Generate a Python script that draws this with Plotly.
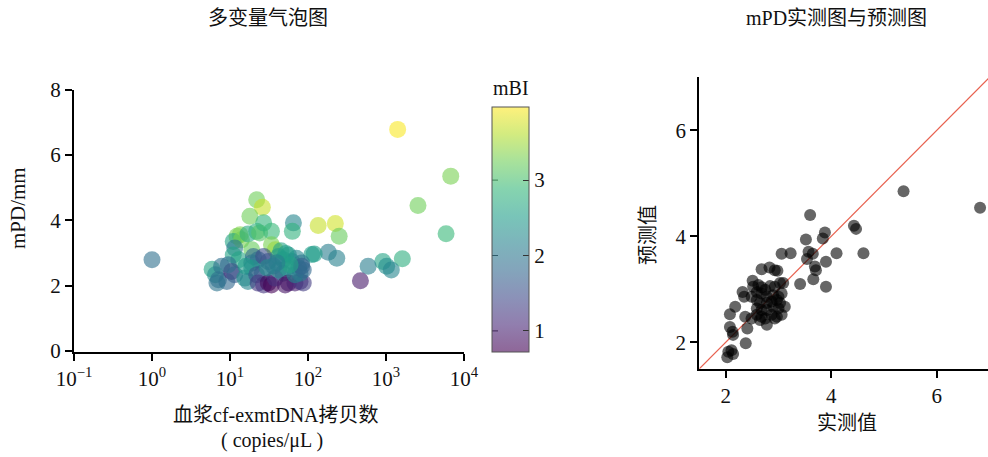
import plotly.graph_objects as go

# ---------------- data: left bubble chart ----------------
copies = [1.0, 1410, 6760, 2570, 5890, 1620, 910, 1020, 1170, 590, 470,
          135, 224, 251, 182, 234, 112, 120, 65, 63,
          22, 26, 18, 13.5, 12.3, 11, 14, 17, 22, 24, 27, 34, 34, 38, 19,
          11.5, 11, 13, 20, 23, 19, 27, 31, 42, 48, 56, 62, 71, 83, 76,
          5.9, 6.5, 7.8, 7.1, 9.1, 6.8, 10.5, 11.5, 9.5, 16, 19, 15.5, 17,
          22, 26, 23, 27, 31, 34, 38, 42, 48, 54, 51, 56, 68, 79, 87, 68,
          79, 83, 87, 59, 45, 52, 30, 36, 40]
mpd = [2.79, 6.78, 5.35, 4.45, 3.59, 2.82, 2.74, 2.59, 2.48, 2.59, 2.15,
       3.84, 3.90, 3.51, 3.02, 2.84, 2.95, 2.97, 3.92, 3.66,
       4.63, 4.40, 4.12, 3.56, 3.51, 3.35, 3.40, 3.58, 3.66, 3.61, 3.92, 3.66, 3.25, 3.10, 3.10,
       3.15, 2.94, 2.79, 2.89, 2.79, 2.69, 2.89, 2.74, 2.89, 2.79, 2.94, 2.74, 2.84, 2.69, 2.54,
       2.50, 2.33, 2.59, 2.18, 2.13, 2.08, 2.43, 2.33, 2.64, 2.59, 2.54, 2.23, 2.13,
       2.33, 2.38, 2.08, 2.02, 2.08, 2.02, 2.23, 2.48, 2.38, 2.54, 2.02, 2.08, 2.08, 2.13, 2.08, 2.33,
       2.38, 2.59, 2.48, 2.64, 3.07, 2.98, 2.55, 2.60, 2.70]
mbi = [1.9, 3.95, 3.3, 3.25, 2.9, 2.75, 2.6, 2.3, 2.2, 2.1, 0.95,
       3.7, 3.75, 3.2, 2.1, 2.15, 2.5, 2.5, 2.2, 2.8,
       3.25, 3.7, 3.25, 3.35, 3.3, 2.6, 3.3, 2.7, 2.8, 3.1, 2.85, 2.9, 3.3, 3.45, 3.2,
       2.0, 2.6, 2.6, 1.8, 1.9, 2.0, 1.5, 1.55, 2.3, 2.2, 2.4, 2.3, 2.2, 2.0, 2.1,
       2.6, 2.3, 1.9, 1.9, 1.8, 1.95, 1.1, 1.7, 1.9, 2.5, 2.4, 2.4, 2.2,
       1.6, 1.7, 1.25, 1.2, 0.8, 0.75, 1.2, 2.3, 1.9, 2.4, 0.9, 0.9, 1.0, 1.1, 1.3, 2.2,
       2.1, 1.7, 1.8, 2.6, 2.6, 2.5, 2.3, 2.0, 2.1]

# ---------------- data: right actual vs predicted ----------------
actual = [3.60, 5.37, 6.82, 4.43, 4.47, 3.88, 3.84, 3.52, 3.06, 3.23, 3.57, 3.65,
          4.10, 4.61, 3.54, 3.90, 3.69, 3.71, 3.66, 3.41, 3.90, 2.68, 2.83, 2.93,
          2.98, 2.51, 2.32, 2.35, 2.18, 2.08, 2.37, 2.08, 2.13, 2.41, 2.14, 2.38,
          2.05, 2.11, 2.03, 2.14,
          2.52, 2.62, 2.68, 2.75, 2.84, 2.93, 3.03, 3.09, 2.59, 2.68, 2.78, 2.90,
          3.00, 3.06, 2.49, 2.59, 2.65, 2.78, 2.87, 2.97, 3.03, 3.12, 2.59, 2.68,
          2.78, 2.90, 3.00, 2.59, 2.68, 2.75, 2.87, 2.97, 3.06, 2.78, 2.93, 2.49, 2.65]
predicted = [4.40, 4.85, 4.54, 4.20, 4.14, 4.07, 3.96, 3.94, 3.67, 3.68, 3.71, 3.67,
             3.68, 3.68, 3.57, 3.52, 3.43, 3.36, 3.19, 3.10, 3.05, 3.38, 3.41, 3.36,
             3.35, 3.16, 2.95, 2.86, 2.67, 2.53, 2.48, 2.29, 2.20, 2.26, 2.14, 1.98,
             1.82, 1.85, 1.72, 1.78,
             3.05, 3.08, 3.04, 2.99, 3.06, 3.05, 3.12, 3.12, 2.95, 2.92, 2.86, 2.89,
             2.86, 2.92, 2.86, 2.80, 2.74, 2.74, 2.77, 2.80, 2.74, 2.67, 2.64, 2.61,
             2.61, 2.67, 2.64, 2.52, 2.48, 2.45, 2.52, 2.48, 2.52, 2.33, 2.45, 2.45, 2.42]

x_tickvals = [0.1, 1, 10, 100, 1000, 10000]
x_ticktext = ["10<sup>−1</sup>", "10<sup>0</sup>", "10<sup>1</sup>",
              "10<sup>2</sup>", "10<sup>3</sup>", "10<sup>4</sup>"]
cb_ticks = [1, 2, 3]
cmin, cmax = 0.72, 3.97

W, H = 988, 457
def px(x): return x / W
def py(y): return 1 - y / H

alpha = 0.6
viridis = ["#440154", "#482878", "#3e4989", "#31688e", "#26828e",
           "#1f9e89", "#35b779", "#6ece58", "#b5de2b", "#fde725"]
def rgba(h, a):
    h = h.lstrip("#")
    return "rgba(%d,%d,%d,%.2f)" % (int(h[0:2], 16), int(h[2:4], 16), int(h[4:6], 16), a)
cscale = [[i / (len(viridis) - 1), rgba(c, alpha)] for i, c in enumerate(viridis)]

FONT = "Liberation Serif, Times New Roman, Noto Sans CJK SC, serif"
fig = go.Figure()

cb_top, cb_bot = 107, 352
fig.add_trace(go.Scatter(
    x=copies, y=mpd, mode="markers", xaxis="x", yaxis="y",
    marker=dict(size=17, color=mbi, colorscale=cscale, cmin=cmin, cmax=cmax,
                line=dict(width=0),
                colorbar=dict(x=px(492), xanchor="left", xpad=0, ypad=0,
                              y=py(cb_bot), yanchor="bottom",
                              len=cb_bot - cb_top, lenmode="pixels",
                              thickness=37, thicknessmode="pixels",
                              outlinewidth=1, outlinecolor="#555",
                              tickvals=cb_ticks, ticks="inside", ticklen=6,
                              tickcolor="#333", tickwidth=1,
                              tickfont=dict(size=21, family=FONT, color="#111"))),
    showlegend=False, hoverinfo="skip"))

fig.add_trace(go.Scatter(
    x=[1.5, 7], y=[1.5, 7], mode="lines", xaxis="x2", yaxis="y2",
    line=dict(color="#e8614f", width=1.2), showlegend=False, hoverinfo="skip"))
fig.add_trace(go.Scatter(
    x=actual, y=predicted, mode="markers", xaxis="x2", yaxis="y2",
    marker=dict(size=12, color="rgba(0,0,0,0.6)", line=dict(width=0)),
    showlegend=False, hoverinfo="skip"))

axis_common = dict(showline=True, linecolor="black", linewidth=2, ticks="outside",
                   ticklen=7, tickwidth=2, tickcolor="black", showgrid=False,
                   zeroline=False, automargin=False,
                   tickfont=dict(size=21, family=FONT, color="#111"))

fig.update_layout(
    width=W, height=H, margin=dict(l=0, r=0, t=0, b=0, autoexpand=False),
    paper_bgcolor="white", plot_bgcolor="white",
    font=dict(family=FONT, color="#111"),
    xaxis=dict(domain=[px(74), px(464)], type="log", range=[-1, 4],
               tickvals=x_tickvals, ticktext=x_ticktext, anchor="y", **axis_common),
    yaxis=dict(domain=[py(352), py(89.5)], range=[-0.03, 8.0],
               tickvals=[0, 2, 4, 6, 8], anchor="x", **axis_common),
    xaxis2=dict(domain=[px(699.3), 1.0], range=[1.5, 6.97],
                tickvals=[2, 4, 6], anchor="y2", **axis_common),
    yaxis2=dict(domain=[py(368.8), py(77.3)], range=[1.5, 7.0],
                tickvals=[2, 4, 6], anchor="x2", **axis_common),
)

# left-side colorbar tick marks (colorbar draws only one side)
for v in cb_ticks:
    yy = cb_bot - (v - cmin) / (cmax - cmin) * (cb_bot - cb_top)
    fig.add_shape(type="line", xref="paper", yref="paper",
                  x0=px(492), x1=px(498), y0=py(yy), y1=py(yy),
                  line=dict(color="#333", width=1))

def ann(text, x, y, size=19, angle=0):
    fig.add_annotation(text=text, x=px(x), y=py(y), xref="paper", yref="paper",
                       showarrow=False, textangle=angle, xanchor="center",
                       yanchor="middle", font=dict(size=size, family=FONT, color="#111"))

ann("多变量气泡图", 268, 18, 20)
ann("mPD实测图与预测图", 836, 18, 20)
ann("mPD/mm", 18, 208, 21, -90)
ann("血浆cf-exmtDNA拷贝数", 276, 415, 20)
ann("( copies/μL )", 272, 440, 20)
ann("实测值", 847, 423, 20)
ann("预测值", 648, 235, 20, -90)
ann("mBI", 511, 88, 20)

fig.write_html("out.html", config={"displayModeBar": False},
               post_script="document.body.style.margin='0';document.body.style.overflow='hidden';")
